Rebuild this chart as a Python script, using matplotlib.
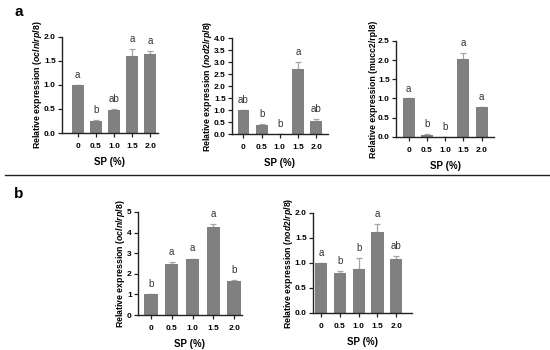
import numpy as np
import matplotlib
matplotlib.use("Agg")
import matplotlib.pyplot as plt

plt.rcParams['font.family'] = ['Liberation Sans', 'DejaVu Sans']
plt.rcParams['mathtext.fontset'] = 'custom'
plt.rcParams['mathtext.it'] = 'Liberation Sans:italic:bold'
plt.rcParams['mathtext.rm'] = 'Liberation Sans:bold'

# -------------------------------
# data
# -------------------------------
sp_levels = ['0', '0.5', '1.0', '1.5', '2.0']

a_ocln = [1.00, 0.25, 0.48, 1.61, 1.65]
a_ocln_err = [0.0, 0.03, 0.03, 0.14, 0.06]
a_ocln_sig = ['a', 'b', 'ab', 'a', 'a']

a_nod2 = [1.00, 0.38, 0.0, 2.73, 0.53]
a_nod2_err = [0.0, 0.04, 0.0, 0.28, 0.10]
a_nod2_sig = ['ab', 'b', 'b', 'a', 'ab']

a_mucc2 = [1.00, 0.05, 0.0, 2.03, 0.77]
a_mucc2_err = [0.0, 0.02, 0.0, 0.15, 0.0]
a_mucc2_sig = ['a', 'b', 'b', 'a', 'a']

b_ocln = [1.00, 2.48, 2.70, 4.26, 1.63]
b_ocln_err = [0.0, 0.07, 0.04, 0.15, 0.07]
b_ocln_sig = ['b', 'a', 'a', 'a', 'b']

b_nod2 = [1.00, 0.80, 0.88, 1.62, 1.08]
b_nod2_err = [0.0, 0.03, 0.22, 0.16, 0.05]
b_nod2_sig = ['a', 'b', 'b', 'a', 'ab']

bar_color = '#808080'
err_color = '#a6a6a6'

fig = plt.figure(figsize=(5.5, 3.5), dpi=100)


def panel(rect, vals, errs, sig, ylabel, ymax, ystep, xlim, fmt):
    ax = fig.add_axes(rect)
    x = np.arange(len(vals))
    ax.bar(x, vals, width=0.65, color=bar_color, zorder=2)
    ax.errorbar(x, vals, yerr=[np.zeros(len(vals)), errs], fmt='none',
                ecolor=err_color, elinewidth=0.9, capsize=2.5, capthick=0.9, zorder=1)
    for xi, v, e, s in zip(x, vals, errs, sig):
        ax.text(xi, v + e + ymax * 0.05, s, ha='center', va='bottom',
                fontsize=7, color='#333333')
    ax.set_xlim(*xlim)
    ax.set_ylim(0, ymax)
    ticks = np.arange(0, ymax + ystep / 2, ystep)
    ax.set_yticks(ticks)
    ax.set_yticklabels([fmt.format(t) for t in ticks])
    ax.set_xticks(x)
    ax.set_xticklabels(sp_levels)
    for lab in ax.get_xticklabels() + ax.get_yticklabels():
        lab.set_fontweight('bold')
    ax.tick_params(labelsize=6, width=0.9, length=3, color='#222222', pad=1.5)
    ax.tick_params(axis='x', pad=4)
    ax.set_xlabel('SP (%)', fontsize=7, fontweight='bold', labelpad=5)
    ax.set_ylabel(ylabel, fontsize=6.3, fontweight='bold', labelpad=0)
    for side in ['top', 'right']:
        ax.spines[side].set_visible(False)
    for side in ['left', 'bottom']:
        ax.spines[side].set_linewidth(1.0)
        ax.spines[side].set_color('#222222')
    return ax


panel([0.1127, 0.620, 0.1745, 0.2743], a_ocln, a_ocln_err, a_ocln_sig,
      r'Relative expression ($\it{ocln/rpl8}$)', 2.0, 0.5, (-0.86, 4.42), '{:.1f}')
panel([0.4218, 0.617, 0.1745, 0.2743], a_nod2, a_nod2_err, a_nod2_sig,
      r'Relative expression ($\it{nod2/rpl8}$)', 4.0, 0.5, (-0.63, 4.65), '{:.1f}')
panel([0.7200, 0.609, 0.1782, 0.2743], a_mucc2, a_mucc2_err, a_mucc2_sig,
      'Relative expression (mucc2/rpl8)', 2.5, 0.5, (-0.7, 4.68), '{:.1f}')
panel([0.2509, 0.100, 0.1891, 0.2943], b_ocln, b_ocln_err, b_ocln_sig,
      r'Relative expression ($\it{ocln/rpl8}$)', 5, 1, (-0.61, 4.37), '{:.0f}')
panel([0.5691, 0.106, 0.1800, 0.2857], b_nod2, b_nod2_err, b_nod2_sig,
      r'Relative expression ($\it{nod2/rpl8}$)', 2.0, 0.5, (-0.43, 4.84), '{:.1f}')

# panel letters and separator
fig.text(0.026, 0.985, 'a', fontsize=11, fontweight='bold', va='top')
fig.text(0.026, 0.465, 'b', fontsize=11, fontweight='bold', va='top')
fig.add_artist(plt.Line2D([0.009, 1.0], [0.50, 0.50], color='#222222', lw=1.0))

fig.savefig('out.png', dpi=100, facecolor='white')
